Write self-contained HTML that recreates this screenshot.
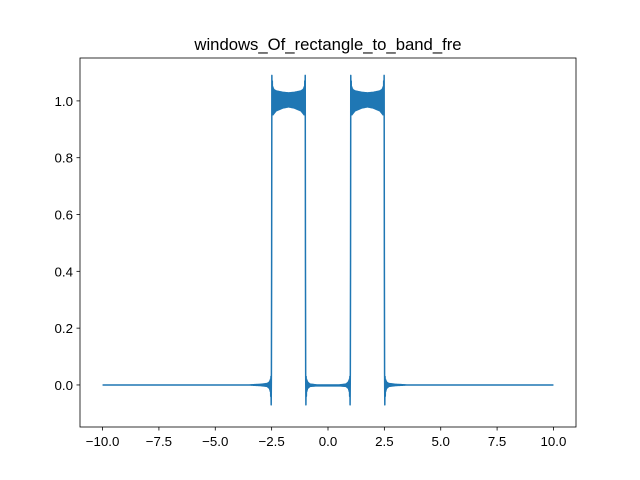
<!DOCTYPE html>
<html><head><meta charset="utf-8"><style>
body{margin:0;background:#fff;}
svg{display:block;font-family:"Liberation Sans","DejaVu Sans",sans-serif;}
</style></head><body>
<svg id="chart" width="640" height="480">
<rect x="0" y="0" width="640" height="480" fill="#fff"/>
<text x="328" y="50" text-anchor="middle" font-size="16.7">windows_Of_rectangle_to_band_fre</text>
<g id="xt"></g>
<g id="yt"></g>
<path id="line" fill="none" stroke="#1f77b4" stroke-width="1.5" stroke-linejoin="round"/>
<rect x="80" y="58" width="496" height="369" fill="none" stroke="#000" stroke-width="0.8"/>
</svg>
<script>
// envelope of the rippling response for x >= 0 (symmetric about 0)
const envX =     [0, 0.5, 0.8, 0.9, 0.95, 0.99, 1.01, 1.05, 1.1, 1.2, 1.5, 1.75, 2.0, 2.3, 2.4, 2.45, 2.49, 2.51, 2.55, 2.6, 2.7, 3.0, 3.5, 10];
const envUpper = [0, 0, 0.003, 0.01, 0.02, 0.04, 1.09, 1.05, 1.04, 1.035, 1.03, 1.028, 1.03, 1.035, 1.04, 1.05, 1.09, 0.04, 0.02, 0.01, 0.005, 0.002, 0, 0];
const envLower = [-0.003, -0.003, -0.005, -0.012, -0.025, -0.085, 0.96, 0.95, 0.955, 0.965, 0.975, 0.979, 0.975, 0.965, 0.955, 0.95, 0.96, -0.085, -0.025, -0.012, -0.005, -0.002, 0, 0];
const xTicks = [-10, -7.5, -5, -2.5, 0, 2.5, 5, 7.5, 10];
const xTickLabels = ["\u221210.0", "\u22127.5", "\u22125.0", "\u22122.5", "0.0", "2.5", "5.0", "7.5", "10.0"];
const yTicks = [0, 0.2, 0.4, 0.6, 0.8, 1.0];
const yTickLabels = ["0.0", "0.2", "0.4", "0.6", "0.8", "1.0"];

const X0=80,X1=576,Y0=427,Y1=58, xmin=-11,xmax=11,ymin=-0.148,ymax=1.151;
const sx=v=>X0+(v-xmin)/(xmax-xmin)*(X1-X0);
const sy=v=>Y0-(v-ymin)/(ymax-ymin)*(Y0-Y1);
const NS="http://www.w3.org/2000/svg";
const xt=document.getElementById('xt'), yt=document.getElementById('yt');
xTicks.forEach((t,i)=>{
  const l=document.createElementNS(NS,'line');
  l.setAttribute('x1',sx(t));l.setAttribute('x2',sx(t));l.setAttribute('y1',427);l.setAttribute('y2',430.5);
  l.setAttribute('stroke','#000');l.setAttribute('stroke-width','0.8');
  
  
  xt.appendChild(l);
  const tx=document.createElementNS(NS,'text');
  tx.setAttribute('x',sx(t));tx.setAttribute('y',446);tx.setAttribute('text-anchor','middle');tx.setAttribute('font-size','13.3');
  tx.textContent=xTickLabels[i];
  
  
  xt.appendChild(tx);
});
yTicks.forEach((t,i)=>{
  const l=document.createElementNS(NS,'line');
  l.setAttribute('x1',76.5);l.setAttribute('x2',80);l.setAttribute('y1',sy(t));l.setAttribute('y2',sy(t));
  l.setAttribute('stroke','#000');l.setAttribute('stroke-width','0.8');
  
  
  yt.appendChild(l);
  const tx=document.createElementNS(NS,'text');
  tx.setAttribute('x',73);tx.setAttribute('y',sy(t)+5);tx.setAttribute('text-anchor','end');tx.setAttribute('font-size','13.3');
  tx.textContent=yTickLabels[i];
  
  
  yt.appendChild(tx);
});
// build full envelope (mirror for negative x)
const fx=[],fu=[],fl=[];
for(let i=envX.length-1;i>0;i--){fx.push(-envX[i]);fu.push(envUpper[i]);fl.push(envLower[i]);}
for(let i=0;i<envX.length;i++){fx.push(envX[i]);fu.push(envUpper[i]);fl.push(envLower[i]);}
function env(arr,x){for(let i=0;i<fx.length-1;i++){if(x>=fx[i]&&x<=fx[i+1]){const f=(x-fx[i])/(fx[i+1]-fx[i]);return arr[i]+f*(arr[i+1]-arr[i]);}}return arr[arr.length-1];}
let d='',k=0;
for(let x=-10;x<=10.0001;x+=0.01){
  const y=(k%2?env(fu,x):env(fl,x));
  d+=(k?'L':'M')+sx(x).toFixed(2)+' '+sy(y).toFixed(2);k++;
}
document.getElementById('line').setAttribute('d',d);
</script>
</body></html>
